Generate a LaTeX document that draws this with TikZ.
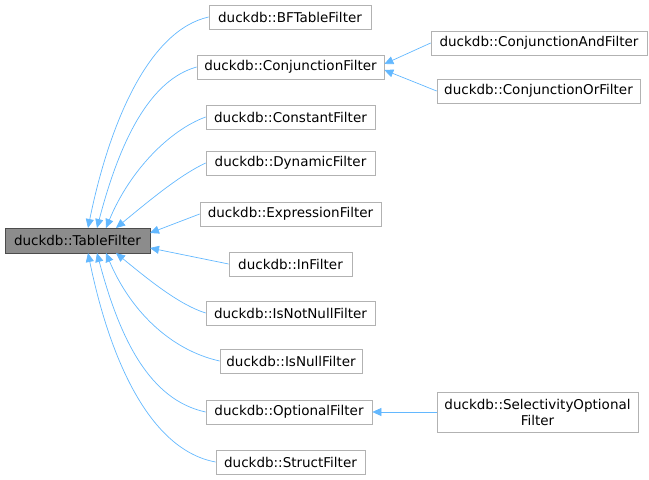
\documentclass[tikz,border=0pt]{standalone}
\usepackage{fontspec}
\setmainfont{DejaVu Sans}
\usetikzlibrary{arrows.meta}
\begin{document}
\begin{tikzpicture}[x=1pt,y=-1pt,
 box/.style={draw=black!30,fill=white,inner sep=0pt,font=\fontsize{13.5}{16}\selectfont,align=center,line width=0.7pt},
 ed/.style={color={rgb,255:red,99;green,184;blue,255},line width=0.7pt,{Triangle[open,fill={rgb,255:red,99;green,184;blue,255},length=9pt,width=8pt]}-}]
\useasboundingbox (0,0) rectangle (649,480);
\newcommand{\bx}[6]{\node[box,minimum width=#4-#2,minimum height=#5-#3] (#1) at ({(#2+#4)/2},{(#3+#5)/2}) {#6};}
\node[box,fill=black!45,draw=black!70,minimum width=145,minimum height=25] (t) at (77.5,240.5) {duckdb::TableFilter};
\bx{bf}{209}{5}{371}{29}{duckdb::BFTableFilter}
\bx{cj}{197}{55}{384}{79}{duckdb::ConjunctionFilter}
\bx{cs}{206}{105}{375}{129}{duckdb::ConstantFilter}
\bx{dy}{206}{151}{375}{175}{duckdb::DynamicFilter}
\bx{ex}{200}{202}{381}{226}{duckdb::ExpressionFilter}
\bx{in}{229}{252}{352}{276}{duckdb::InFilter}
\bx{nn}{206}{301}{375}{325}{duckdb::IsNotNullFilter}
\bx{nu}{220}{349}{362}{373}{duckdb::IsNullFilter}
\bx{op}{206}{400}{372}{424}{duckdb::OptionalFilter}
\bx{st}{216}{450}{365}{474}{duckdb::StructFilter}
\bx{ca}{431}{31}{647}{55}{duckdb::ConjunctionAndFilter}
\bx{co}{437}{79}{640}{103}{duckdb::ConjunctionOrFilter}
\bx{so}{437}{392}{638}{432}{duckdb::SelectivityOptional\\Filter}
\draw[ed] (88,228) .. controls (110,120) and (150,30) .. (bf.west);
\draw[ed] (97,228) .. controls (120,140) and (150,80) .. (cj.west);
\draw[ed] (106,228) .. controls (130,170) and (170,130) .. (cs.west);
\draw[ed] (116,228) .. controls (150,200) and (180,175) .. (dy.west);
\draw[ed] (150,233) -- (ex.west);
\draw[ed] (150,248) -- (in.west);
\draw[ed] (116,253) .. controls (150,281) and (180,305) .. (nn.west);
\draw[ed] (106,253) .. controls (130,310) and (170,350) .. (nu.west);
\draw[ed] (97,253) .. controls (120,340) and (150,400) .. (op.west);
\draw[ed] (88,253) .. controls (110,360) and (150,450) .. (st.west);
\draw[ed] (cj.east) ++(0,-3) -- (ca.west);
\draw[ed] (cj.east) ++(0,3) -- (co.west);
\draw[ed] (op.east) -- (so.west);
\end{tikzpicture}
\end{document}
